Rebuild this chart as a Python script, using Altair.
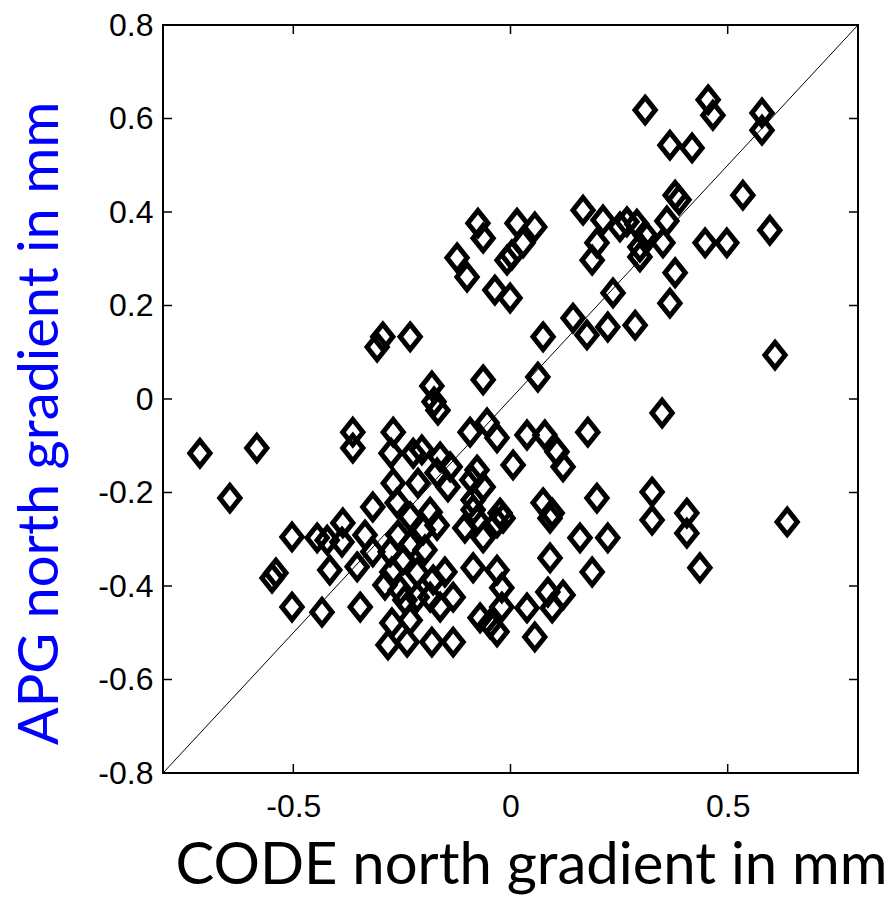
import altair as alt
import pandas as pd

# CODE north gradient (mm)
code_x = [
    0.310, 0.455, 0.466, 0.579, 0.579, 0.367, 0.418, 0.379, 0.388, 0.535,
    0.597, 0.448, 0.498, 0.167, 0.213, 0.268, 0.291, 0.298, 0.298, 0.351,
    0.360, 0.188, 0.199, 0.236, 0.379, 0.367, 0.144, 0.176, 0.224, 0.287,
    0.609, 0.075, 0.063, 0.252, 0.310, -0.123, -0.100, -0.075, -0.063, -0.036,
    -0.001, 0.015, 0.056, 0.029, 0.003, -0.008, -0.294, -0.307, -0.231, -0.181,
    -0.063, -0.176, -0.167, -0.363, -0.363, -0.270, -0.275, -0.224, -0.204, -0.093,
    -0.162, -0.169, -0.139, -0.144, -0.213, -0.270, -0.317, -0.261, -0.185, -0.086,
    -0.089, -0.077, -0.054, -0.031, 0.038, 0.079, 0.107, 0.121, 0.178, 0.006,
    -0.063, -0.086, -0.024, 0.075, 0.096, 0.199, -0.715, -0.584, -0.646, -0.503,
    -0.549, -0.540, -0.503, -0.434, -0.386, -0.445, -0.422, -0.416, -0.388, -0.335,
    -0.277, -0.247, -0.273, -0.254, -0.346, -0.273, -0.231, -0.282, -0.238, -0.181,
    -0.132, -0.132, -0.151, -0.105, -0.086, -0.197, -0.201, -0.231, -0.317, -0.353,
    -0.215, -0.178, -0.215, -0.162, -0.070, -0.077, -0.031, -0.017, -0.063, 0.091,
    0.160, 0.224, 0.091, 0.188, -0.031, -0.020, -0.020, -0.047, -0.031, 0.038,
    0.086, 0.121, 0.096, 0.056, 0.349, 0.326, 0.326, 0.406, 0.406, 0.637,
    0.436, -0.259, -0.231, -0.169, -0.185, -0.289, -0.243,
]

# APG north gradient (mm)
apg_y = [
    0.618, 0.640, 0.607, 0.612, 0.575, 0.543, 0.537, 0.436, 0.426, 0.436,
    0.361, 0.334, 0.334, 0.404, 0.383, 0.379, 0.374, 0.325, 0.304, 0.334,
    0.381, 0.297, 0.334, 0.227, 0.270, 0.205, 0.173, 0.137, 0.154, 0.158,
    0.094, 0.133, 0.047, 0.368, 0.351, 0.302, 0.261, 0.376, 0.344, 0.233,
    0.216, 0.376, 0.368, 0.334, 0.308, 0.297, 0.133, 0.111, 0.133, 0.028,
    0.041, -0.006, -0.024, -0.071, -0.105, -0.071, -0.116, -0.116, -0.109, -0.071,
    -0.124, -0.158, -0.145, -0.188, -0.180, -0.180, -0.231, -0.222, -0.242, -0.216,
    -0.173, -0.152, -0.051, -0.083, -0.077, -0.077, -0.113, -0.145, -0.071, -0.141,
    -0.188, -0.237, -0.244, -0.222, -0.244, -0.212, -0.116, -0.105, -0.212, -0.295,
    -0.383, -0.372, -0.445, -0.456, -0.265, -0.297, -0.302, -0.366, -0.306, -0.291,
    -0.327, -0.344, -0.370, -0.409, -0.445, -0.479, -0.473, -0.526, -0.520, -0.520,
    -0.520, -0.424, -0.370, -0.276, -0.361, -0.323, -0.280, -0.252, -0.327, -0.359,
    -0.372, -0.387, -0.424, -0.445, -0.468, -0.259, -0.265, -0.255, -0.297, -0.255,
    -0.297, -0.297, -0.340, -0.370, -0.366, -0.404, -0.445, -0.481, -0.498, -0.447,
    -0.413, -0.419, -0.447, -0.509, -0.030, -0.199, -0.259, -0.244, -0.287, -0.263,
    -0.361, -0.291, -0.312, -0.270, -0.424, -0.398, -0.430,
]

x_ticks = [-0.5, 0.0, 0.5]
y_ticks = [-0.8, -0.6, -0.4, -0.2, 0.0, 0.2, 0.4, 0.6, 0.8]
diag = [-0.8, 0.8]

W, H = 695, 748
TL = 9

pts = pd.DataFrame({"x": code_x, "y": apg_y})
diag_df = pd.DataFrame({"x": diag, "y": diag})
xt_df = pd.DataFrame({"t": x_ticks})
yt_df = pd.DataFrame({"t": y_ticks})

xscale = alt.Scale(domain=[-0.8, 0.8], nice=False, zero=False)
yscale = alt.Scale(domain=[-0.8, 0.8], nice=False, zero=False)

lbl = ("datum.value == 0 ? '0' : (datum.value < 0 ? '-' + format(-datum.value, '.1f') "
       ": format(datum.value, '.1f'))")

x_axis = alt.Axis(
    values=x_ticks, labelExpr=lbl,
    ticks=False, grid=False, domain=False,
    labelFont="Liberation Sans", labelFontSize=32, labelColor="black", labelPadding=18,
    title="CODE north gradient in mm", titleFont="Lato", titleFontSize=58,
    titleFontWeight="normal", titleColor="black", titleBaseline="alphabetic",
    titleX=368, titleY=110, titleAlign="center",
)
y_axis = alt.Axis(
    values=y_ticks, labelExpr=lbl,
    ticks=False, grid=False, domain=False,
    labelFont="Liberation Sans", labelFontSize=32, labelColor="black", labelPadding=10,
    title="APG north gradient in mm", titleFont="Lato", titleFontSize=56,
    titleFontWeight="normal", titleColor="#0000FF", titleBaseline="alphabetic",
    titleAngle=270, titleX=-106, titleY=398, titleAlign="center",
)

diamond = "M0,-1L0.8,0L0,1L-0.8,0Z"

points = alt.Chart(pts).mark_point(
    shape=diamond, size=640, filled=False, stroke="black", strokeWidth=5, opacity=1
).encode(
    x=alt.X("x:Q", scale=xscale, axis=x_axis),
    y=alt.Y("y:Q", scale=yscale, axis=y_axis),
)

line = alt.Chart(diag_df).mark_line(color="black", strokeWidth=1).encode(
    x=alt.X("x:Q", scale=xscale), y=alt.Y("y:Q", scale=yscale)
)

box = alt.Chart(pd.DataFrame({"a": [0]})).mark_rect(
    fill=None, filled=False, stroke="black", strokeWidth=2
).encode(x=alt.value(0), x2=alt.value(W), y=alt.value(0), y2=alt.value(H))

xt_bottom = alt.Chart(xt_df).mark_rule(color="black", strokeWidth=1.5).encode(
    x=alt.X("t:Q", scale=xscale), y=alt.value(H), y2=alt.value(H - TL)
)
xt_top = alt.Chart(xt_df).mark_rule(color="black", strokeWidth=1.5).encode(
    x=alt.X("t:Q", scale=xscale), y=alt.value(0), y2=alt.value(TL)
)
yt_left = alt.Chart(yt_df).mark_rule(color="black", strokeWidth=1.5).encode(
    y=alt.Y("t:Q", scale=yscale), x=alt.value(0), x2=alt.value(TL)
)
yt_right = alt.Chart(yt_df).mark_rule(color="black", strokeWidth=1.5).encode(
    y=alt.Y("t:Q", scale=yscale), x=alt.value(W), x2=alt.value(W - TL)
)

chart = alt.layer(line, box, xt_bottom, xt_top, yt_left, yt_right, points).properties(
    width=W, height=H,
    autosize=alt.AutoSizeParams(type="none"),
    padding={"left": 163, "top": 25, "right": 36, "bottom": 124},
).configure_view(
    stroke=None, fill="white"
).configure(background="white")

chart.save("out.html", embed_options={"renderer": "svg", "actions": False})
